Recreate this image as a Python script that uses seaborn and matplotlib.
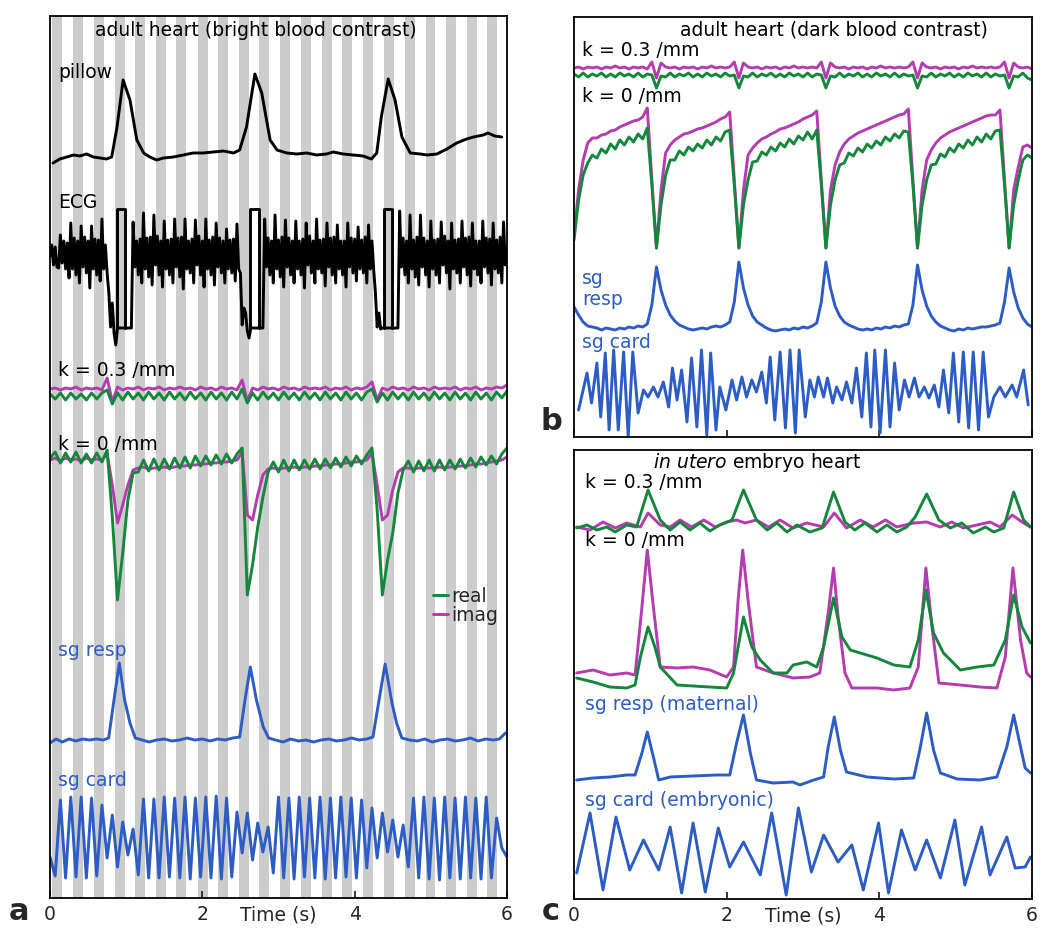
import matplotlib
matplotlib.use("Agg")
import matplotlib.pyplot as plt
from matplotlib.lines import Line2D
import numpy as np
import seaborn as sns

sns.set_style("white")
plt.rcParams["font.family"] = ["DejaVu Sans"]
plt.rcParams["mathtext.fontset"] = "dejavusans"

GREEN = "#14873c"
MAGENTA = "#b43cb0"
BLUE = "#2c5cc5"
GRAY = "#cccccc"
LW = 2.1
FS = 13.5

# ---------------- panel a : adult heart, bright blood ----------------
# alternating cardiac cycles (start times of the gray ones, s)
stripe_starts = [0.03, 0.30, 0.58, 0.85, 1.12, 1.39, 1.66, 1.94, 2.21, 2.48, 2.75,
                 3.02, 3.30, 3.57, 3.84, 4.11, 4.38, 4.66, 4.93, 5.20, 5.47, 5.74]

pillow_t = [0.04, 0.13, 0.22, 0.31, 0.39, 0.48, 0.57, 0.66, 0.74, 0.81,
            0.88, 0.96, 1.05, 1.14, 1.23, 1.31, 1.40, 1.49, 1.62, 1.75,
            1.88, 2.01, 2.14, 2.28, 2.41, 2.49, 2.58, 2.69, 2.78, 2.89,
            2.98, 3.11, 3.24, 3.37, 3.50, 3.63, 3.72, 3.85, 3.98, 4.11,
            4.22, 4.29, 4.35, 4.44, 4.53, 4.62, 4.73, 4.86, 4.95, 5.08,
            5.21, 5.34, 5.47, 5.56, 5.69, 5.75, 5.84, 5.93]
pillow_v = [-3, 1, 3, 5, 4, 6, 3, 2, 1, 3,
            33, 80, 60, 20, 7, 3, 0, 2, 3, 5,
            7, 7, 8, 9, 7, 10, 33, 86, 67, 20,
            10, 7, 6, 7, 5, 6, 8, 6, 5, 4,
            1, 7, 43, 81, 60, 23, 7, 6, 5, 6,
            11, 17, 21, 23, 25, 27, 24, 23]

# ECG, evenly sampled over 0-6 s (six samples per cardiac cycle)
ecg_v = [-3, 8, -12, 6, -14, -15, 18, -10, 12, -16, 10, -25,
         30, -16, 15, -22, 12, -30, 27, -14, 16, -20, 12, -35,
         27, -16, 14, -22, 13, -28,
         34, -16, 8, -20, -40, -74, -50, -80, -92,
         -75, -75, -75, -75, -75, -75, -75, -75, -75,
         31, -14, 12, -22, 14, -30, 40, -16, 15, -24, 16, -32,
         38, -12, 17, -22, 12, -34, 32, -16, 13, -22, 14, -30,
         34, -14, 15, -24, 16, -36, 34, -16, 12, -20, 14, -30,
         33, -12, 17, -22, 12, -34, 34, -16, 13, -22, 16, -32,
         30, -14, 15, -20, 12, -30, 24, -16, 13, -20, 14, -28,
         29, -16, -20, -72, -55, -60, -78, -85,
         -75, -75, -75, -75, -75, -75, -75, -75,
         34, -14, 15, -22, 12, -30, 38, -16, 13, -24, 16, -34,
         33, -14, 15, -22, 12, -30, 32, -16, 12, -22, 14, -35,
         30, -12, 17, -20, 12, -30, 34, -16, 13, -20, 14, -33,
         30, -14, 15, -22, 16, -30, 28, -16, 12, -22, 12, -34,
         30, -14, 15, -20, 14, -28, 26, -16, 13, -20, 16, -30,
         28, -16, 12, -17, -40, -74, -60, -76,
         -75, -75, -75, -75, -75, -75, -75, -75, -75, -75,
         42, -14, 15, -22, 12, -30, 38, -16, 13, -24, 16, -32,
         38, -14, 15, -22, 12, -34, 32, -16, 13, -22, 14, -30,
         31, -12, 17, -20, 12, -36, 30, -16, 13, -20, 14, -30,
         32, -14, 15, -22, 16, -33, 30, -16, 12, -22, 12, -30,
         32, -14, 15, -20, 14, -32, 30, -16, 13, -20, 16, -30,
         31, -12, 5]
gate_start = [0.88, 2.63, 4.385]
gate_end = [0.99, 2.74, 4.494]
gate_top, gate_bottom = 44, -75

# k = 0.3 /mm, evenly sampled
a_k03_imag = [3, 4, 2, 4, 3, 5, 2, 4, 3, 4, 2, 14, -10,
              5, 2, 4, 3, 5, 2, 4, 3, 5, 2, 4, 3, 5, 3, 4, 2, 5, 3, 4, 2, 5, 3, 4, 2,
              12, -9,
              4, 2, 5, 3, 4, 2, 5, 3, 4, 2, 5, 3, 4, 3, 5, 2, 4, 3, 5, 2, 4, 3, 5,
              10, -8,
              4, 2, 5, 3, 4, 2, 5, 3, 4, 2, 5, 3, 4, 3, 5, 2, 4, 3, 5, 2, 4, 3, 5, 4, 7]
a_k03_real = [-2, -7, -1, -8, -1, -7, -2, -8, -1, -7, -1, 2, -12,
              -1, -8, 0, -7, -1, -8, 0, -7, -1, -8, 0, -7, -1, -8, 0, -7, -1, -8, 0, -7, -1, -8, 0, -7,
              3, -11,
              -1, -8, 0, -7, -1, -8, 0, -7, -1, -8, 0, -7, -1, -8, 0, -7, -1, -8, 0, -7, -1, -8, 0,
              3, -10,
              -1, -8, 0, -7, -1, -8, 0, -7, -1, -8, 0, -7, -1, -8, 0, -7, -1, -8, 0, -7, -1, -8, 0, -6, 1]

# k = 0 /mm, evenly sampled
a_k0_real = [2, 8, -3, 7, -2, 8, -3, 6, -3, 7, -2, 10,
             -57, -140, -93, -40, -13,
             -12, 0, -11, 1, -10, 1, -9, 2, -8, 3, -8, 4, -6, 4, -5, 5, -4, 6, -3, 6,
             12, -135, -105, -67, -37, -12,
             -2, -12, 0, -11, 0, -10, 0, -9, 1, -9, 1, -8, 2, -7, 3, -6, 4, -4, 5,
             12, -50, -135, -100, -73, -33, -10,
             -1, -12, -1, -11, 0, -11, 0, -10, 0, -9, 1, -8, 2, -7, 3, -5, 4, -4, 6, 12]
a_k0_imag = [0, 2, -1, 2, 0, 1, -1, 2, 0, 1, 0, 6,
             -25, -63, -45, -25, -10,
             -8, -7, -9, -8, -8, -7, -8, -7, -6, -6, -5, -5, -4, -4, -3, -3, -2, -2, -1, 0,
             8, -55, -60, -35, -15, -9,
             -8, -9, -8, -8, -7, -8, -7, -7, -6, -6, -5, -5, -4, -4, -3, -2, -2, -1, 0,
             7, -25, -60, -55, -30, -12, -8,
             -8, -9, -8, -8, -8, -8, -7, -8, -7, -7, -6, -6, -5, -4, -4, -3, -2, -1, 0, 3]

a_resp_t = [0.0, 0.08, 0.16, 0.25, 0.34, 0.43, 0.52, 0.61, 0.70,
            0.77, 0.84, 0.91, 0.98, 1.05, 1.12, 1.21, 1.30, 1.40, 1.50,
            1.60, 1.70, 1.80, 1.90, 2.00, 2.10, 2.20, 2.30, 2.40, 2.49,
            2.56, 2.63, 2.71, 2.80, 2.87, 2.96, 3.06, 3.16, 3.26, 3.36,
            3.46, 3.56, 3.66, 3.76, 3.86, 3.96, 4.06, 4.16, 4.24, 4.32,
            4.40, 4.49, 4.55, 4.62, 4.72, 4.82, 4.92, 5.02, 5.12, 5.22,
            5.32, 5.42, 5.52, 5.62, 5.72, 5.82, 5.90, 5.98]
a_resp_v = [-3, 1, -2, 1, -1, 1, 0, 1, 0,
            2, 40, 77, 40, 17, 2, 0, -2, 0, 1,
            -1, 0, 2, 0, 1, -1, 1, 0, 2, 3,
            40, 73, 40, 13, 2, 0, -2, 1, -1, 0,
            -2, 0, 1, -1, 0, 2, 0, 1, 3, 40,
            76, 37, 17, 2, 0, -1, 1, -2, 0, 1,
            -1, 0, 2, -1, 1, 0, 1, 7]

# sg card, evenly sampled (half a cardiac cycle apart)
a_card_v = [-19, -38, 38, -40, 41, -39, 41, -40, 40, -38,
            33, -20, 23, -29, 16, -17, 9, -37, 39, -40,
            39, -40, 41, -39, 40, -40, 41, -41, 40, -39,
            41, -40, 42, -41, 40, -39, 26, -15, 25, -22,
            15, -14, 11, -35, 41, -40, 40, -41, 41, -39,
            40, -40, 41, -41, 40, -40, 41, -39, 40, -40,
            38, -30, 30, -20, 25, -14, 18, -19, 13, -29,
            40, -40, 41, -41, 40, -42, 41, -40, 40, -41,
            41, -40, 40, -41, 41, -40, 20, -10, -19]

# ---------------- panel b : adult heart, dark blood ----------------
b_k03_imag = [4, 5, 3, 5, 4, 5, 3, 5, 4, 6, 4, 5, 3, 5, 4, 5, 3, 10, -6, 9,
              5, 4, 5, 3, 5, 4, 5, 3, 5, 4, 6, 4, 5, 4, 5, 10, -6, 9,
              5, 4, 5, 3, 5, 4, 5, 3, 5, 4, 6, 4, 5, 4, 5, 4, 10, -6, 9,
              5, 4, 5, 3, 5, 4, 5, 3, 5, 4, 6, 4, 5, 4, 5, 4, 5, 10, -6, 9,
              5, 4, 5, 3, 5, 4, 5, 3, 5, 4, 6, 4, 5, 4, 5, 4, 5, 10, -6, 9,
              5, 4, 5, 3]
b_k03_real = [-2, -5, -1, -5, -2, -4, -1, -5, -2, -5, -1, -4, -2, -5, -1, -5, -2, -3, -16, -4,
              -5, -1, -5, -2, -4, -1, -5, -2, -5, -1, -4, -2, -5, -1, -4, -3, -16, -4,
              -5, -1, -5, -2, -4, -1, -5, -2, -5, -1, -4, -2, -5, -1, -5, -2, -3, -16, -4,
              -5, -1, -5, -2, -4, -1, -5, -2, -5, -1, -4, -2, -5, -1, -5, -2, -4, -3, -16, -4,
              -5, -1, -5, -2, -4, -1, -5, -2, -5, -1, -4, -2, -5, -1, -5, -2, -4, -3, -16, -4,
              -5, -1, -6, -8]
b_k0_imag = [-105, -60, -30, -13, -8, -8, -5, -4, -1, 0, 3, 5, 7, 9, 10, 13, 22, -50, -118, -60,
             -23, -15, -10, -7, -4, -3, -1, 1, 2, 4, 6, 8, 11, 13, 18, -50, -118, -60,
             -25, -18, -13, -9, -7, -4, -2, 1, 2, 4, 6, 8, 11, 13, 15, 19, -50, -118, -60,
             -35, -22, -14, -9, -6, -3, -1, 1, 3, 5, 7, 9, 11, 13, 15, 16, 21, -50, -118, -60,
             -30, -20, -13, -8, -5, -2, 0, 2, 4, 6, 8, 10, 12, 14, 15, 15, 20, -50, -118, -60,
             -37, -17, -15, -18]
b_k0_real = [-110, -70, -45, -33, -25, -28, -19, -23, -14, -19, -10, -15, -7, -12, -4, -9, 2, -55, -118, -75,
             -45, -30, -30, -21, -25, -17, -21, -14, -18, -10, -15, -7, -11, -2, 0, -55, -118, -75,
             -50, -32, -31, -22, -25, -17, -21, -13, -17, -9, -14, -6, -10, -2, -9, 0, -55, -118, -75,
             -50, -35, -33, -23, -26, -18, -22, -14, -18, -11, -15, -7, -11, -4, -8, -1, -2, -55, -118, -75,
             -50, -35, -34, -24, -27, -18, -22, -14, -18, -10, -15, -7, -12, -4, -9, -1, 0, -55, -118, -75,
             -50, -30, -25, -28]
b_resp_v = [23, 15, 8, 4, 3, 2, 0, 2, 1, 0, 2, 1, 3, 2, 4, 3, 6, 25, 63, 40,
            25, 15, 9, 5, 3, 1, 0, 1, 2, 1, 3, 4, 3, 5, 8, 28, 68, 42,
            25, 14, 8, 5, 2, 0, -1, 0, 1, 0, 2, 1, 3, 2, 4, 7, 28, 68, 42,
            24, 14, 8, 5, 3, 1, 0, 1, 0, 2, 1, 3, 2, 4, 3, 5, 6, 25, 65, 40,
            24, 14, 8, 4, 2, 0, -1, 1, 0, 2, 1, 2, 3, 3, 4, 5, 7, 28, 62, 38,
            22, 12, 6, 3]
b_card_t = [0.06, 0.17, 0.23, 0.30, 0.35, 0.41, 0.46, 0.52, 0.58, 0.65,
            0.71, 0.77, 0.84, 0.91, 0.97, 1.04, 1.10, 1.17, 1.24, 1.29,
            1.35, 1.41, 1.48, 1.54, 1.61, 1.67, 1.74, 1.79, 1.86, 1.91,
            1.99, 2.07, 2.13, 2.20, 2.26, 2.33, 2.39, 2.46, 2.52, 2.57,
            2.63, 2.70, 2.77, 2.83, 2.90, 2.95, 3.03, 3.09, 3.15, 3.20,
            3.27, 3.32, 3.39, 3.44, 3.51, 3.57, 3.64, 3.70, 3.77, 3.83,
            3.89, 3.94, 4.01, 4.08, 4.14, 4.20, 4.26, 4.33, 4.39, 4.46,
            4.52, 4.59, 4.65, 4.72, 4.78, 4.84, 4.91, 4.97, 5.04, 5.10,
            5.17, 5.23, 5.30, 5.36, 5.43, 5.50, 5.58, 5.65, 5.74, 5.80,
            5.89, 5.95]
b_card_v = [-17, 20, -10, 30, -24, 40, -37, 43, -37, 41,
            -44, 41, -20, 3, -4, 6, -4, 11, -14, 25,
            -7, 23, -29, 35, -34, 43, -42, 40, -37, 6,
            -17, 13, -7, 16, -4, 13, 1, 21, -10, 36,
            -27, 41, -35, 43, -40, 43, -24, 13, -4, 16,
            -4, 15, -10, 6, -7, 11, -10, 25, -24, 40,
            -34, 43, -40, 43, -34, 30, -17, 13, -4, 15,
            -4, 6, -5, 8, -14, 23, -20, 40, -29, 41,
            -35, 41, -37, 41, -24, -4, 6, -4, 8, -4,
            23, -12]

# ---------------- panel c : in utero embryo heart ----------------
c_k03_real_t = [0.035, 0.17, 0.30, 0.43, 0.54, 0.69, 0.82, 0.97, 1.13, 1.26, 1.39, 1.52, 1.65, 1.78, 1.91,
                2.07, 2.22, 2.39, 2.53, 2.66, 2.79, 2.92, 3.09, 3.25, 3.40, 3.55, 3.68, 3.81, 3.97,
                4.10, 4.23, 4.36, 4.47, 4.62, 4.78, 4.93, 5.08, 5.23, 5.39, 5.50, 5.63, 5.76, 5.89, 5.98]
c_k03_real_v = [0, 3, -2, 1, -4, 3, 1, 38, 8, -2, 6, -2, 5, -3, 3,
                8, 38, 8, -2, 5, -4, 3, -4, 0, 36, 6, -2, 5, -4,
                3, -4, 1, 11, 34, 8, 0, 5, -5, 1, -4, 0, 36, 8, 1]
c_k03_imag_t = [0.035, 0.21, 0.38, 0.54, 0.69, 0.87, 0.97, 1.13, 1.26, 1.39, 1.54, 1.70, 1.85,
                2.00, 2.13, 2.24, 2.39, 2.55, 2.70, 2.87, 3.05, 3.27, 3.41, 3.57, 3.75, 3.92,
                4.08, 4.23, 4.45, 4.62, 4.80, 4.95, 5.10, 5.28, 5.45, 5.58, 5.74, 5.89, 5.98]
c_k03_imag_v = [1, -2, 6, 0, 5, 1, 15, 3, 1, 8, 1, 8, 1,
                6, 8, 5, 8, 1, 8, 0, 5, 1, 15, 0, 8, 1,
                8, 1, 5, 6, 1, 6, 0, 3, 6, 1, 13, 5, 1]
c_k0_imag_t = [0.035, 0.25, 0.47, 0.69, 0.80, 0.89, 0.96, 1.04, 1.13,
               1.35, 1.56, 1.78, 2.00, 2.09, 2.15, 2.21, 2.28, 2.39,
               2.61, 2.87, 3.09, 3.22, 3.33, 3.40, 3.46, 3.55, 3.64,
               3.97, 4.19, 4.40, 4.51, 4.61, 4.69, 4.78,
               5.06, 5.32, 5.54, 5.65, 5.75, 5.85, 5.93, 5.98]
c_k0_imag_v = [7, 10, 5, 7, 5, 73, 130, 73, 13,
               12, 13, 10, 3, 13, 80, 130, 80, 13,
               7, 2, 3, 7, 67, 112, 63, 7, -8,
               -8, -10, -8, 13, 112, 53, -3,
               -5, -7, -8, 23, 112, 40, 7, 3]
c_k0_real_t = [0.035, 0.25, 0.47, 0.69, 0.80, 0.87, 0.97, 1.06, 1.13,
               1.35, 1.56, 1.78, 2.00, 2.09, 2.22, 2.33, 2.44,
               2.61, 2.79, 2.87, 3.05, 3.18, 3.27, 3.40, 3.51, 3.62, 3.75,
               3.97, 4.19, 4.40, 4.51, 4.61, 4.71, 4.84, 4.97,
               5.06, 5.28, 5.50, 5.65, 5.76, 5.87, 5.98]
c_k0_real_v = [2, -2, -7, -8, -5, 23, 53, 33, 13,
               -5, -6, -7, -8, 7, 63, 33, 20,
               7, 7, 15, 18, 13, 33, 82, 43, 30, 27,
               22, 15, 13, 40, 90, 47, 27, 17,
               10, 13, 15, 40, 85, 53, 37]
c_resp_t = [0.035, 0.25, 0.47, 0.69, 0.80, 0.89, 0.96, 1.04, 1.11,
            1.26, 1.56, 1.87, 2.04, 2.13, 2.22, 2.31, 2.39,
            2.61, 2.87, 2.96, 3.14, 3.27, 3.33, 3.41, 3.49, 3.57,
            3.84, 4.19, 4.45, 4.53, 4.62, 4.71, 4.80,
            5.02, 5.32, 5.54, 5.67, 5.76, 5.85, 5.91, 5.98]
c_resp_v = [-2, 0, 1, 3, 3, 25, 46, 21, -2,
            1, 2, 3, 3, 35, 63, 25, -2,
            -5, -4, -7, -2, 1, 31, 61, 28, 6,
            1, -1, 0, 28, 65, 28, 5,
            -1, -2, 1, 31, 63, 31, 10, 5]
c_card_t = [0.035, 0.21, 0.38, 0.55, 0.73, 0.91, 1.11, 1.26, 1.41, 1.56, 1.72, 1.89,
            2.04, 2.22, 2.44, 2.59, 2.78, 2.94, 3.11, 3.27, 3.46, 3.64, 3.79, 3.99,
            4.12, 4.29, 4.47, 4.62, 4.80, 4.99, 5.12, 5.34, 5.45, 5.67, 5.78, 5.91, 5.98]
c_card_v = [-23, 37, -40, 33, -20, 10, -20, 23, -43, 27, -42, 22,
            -17, 8, -25, 37, -45, 42, -22, 15, -12, 5, -40, 27,
            -43, 20, -20, 10, -28, 30, -35, 23, -25, 13, -18, -17, -7]


def trace(ax, t, v, offset, color):
    t = np.asarray(t, float)
    v = np.asarray(v, float)
    sns.lineplot(x=t, y=v + offset, ax=ax, color=color, lw=LW,
                 sort=False, estimator=None)


def even(v):
    return np.linspace(0, 6, len(v))


def setup(ax, height, labels=True):
    ax.set_xlim(0, 6)
    ax.set_ylim(0, height)
    ax.set_yticks([])
    ax.set_xticks([0, 2, 4, 6])
    ax.tick_params(axis="x", bottom=True, direction="in", length=5, width=1.3,
                   labelsize=FS, pad=5, labelbottom=labels)
    for s in ax.spines.values():
        s.set_linewidth(1.3)
        s.set_color("black")
    if labels:
        ax.set_xlabel("Time (s)", fontsize=FS)


def label(ax, x, y, txt, color="black", **kw):
    ax.text(x, y, txt, color=color, fontsize=FS, ha="left", va="center", **kw)


fig = plt.figure(figsize=(10.5, 9.39), dpi=100)
ax_a = fig.add_axes([50 / 1050, 41 / 939, 457 / 1050, 882 / 939])
ax_b = fig.add_axes([574 / 1050, 502 / 939, 458 / 1050, 420 / 939])
ax_c = fig.add_axes([574 / 1050, 40 / 939, 458 / 1050, 449 / 939])

# ---- a ----
setup(ax_a, 882)
for s in stripe_starts:
    ax_a.axvspan(s, s + 0.13, color=GRAY, lw=0, zorder=0)
trace(ax_a, pillow_t, pillow_v, 738, "black")
trace(ax_a, even(ecg_v), ecg_v, 645, "black")
for s, e in zip(gate_start, gate_end):
    trace(ax_a, [s, s, e, e], [gate_bottom, gate_top, gate_top, gate_bottom], 645, "black")
trace(ax_a, even(a_k03_imag), a_k03_imag, 506, MAGENTA)
trace(ax_a, even(a_k03_real), a_k03_real, 506, GREEN)
trace(ax_a, even(a_k0_imag), a_k0_imag, 438, MAGENTA)
trace(ax_a, even(a_k0_real), a_k0_real, 438, GREEN)
trace(ax_a, a_resp_t, a_resp_v, 158, BLUE)
trace(ax_a, even(a_card_v), a_card_v, 60, BLUE)
label(ax_a, 0.59, 868, "adult heart (bright blood contrast)")
label(ax_a, 0.105, 825, "pillow")
label(ax_a, 0.105, 695, "ECG")
label(ax_a, 0.105, 527, "k = 0.3 /mm")
label(ax_a, 0.105, 454, "k = 0 /mm")
label(ax_a, 0.105, 248, "sg resp", BLUE)
label(ax_a, 0.105, 118, "sg card", BLUE)
handles = [Line2D([], [], color=GREEN, lw=LW), Line2D([], [], color=MAGENTA, lw=LW)]
ax_a.legend(handles, ["real", "imag"], loc="upper left", bbox_to_anchor=(0.838, 0.353),
            frameon=False, fontsize=FS, handlelength=0.8, handletextpad=0.2,
            labelspacing=0.0, borderpad=0, borderaxespad=0)
ax_a.xaxis.set_label_coords(0.5, -0.008)

# ---- b ----
setup(ax_b, 420, labels=False)
trace(ax_b, even(b_k03_imag), b_k03_imag, 365, MAGENTA)
trace(ax_b, even(b_k03_real), b_k03_real, 365, GREEN)
trace(ax_b, even(b_k0_imag), b_k0_imag, 307, MAGENTA)
trace(ax_b, even(b_k0_real), b_k0_real, 307, GREEN)
trace(ax_b, even(b_resp_v), b_resp_v, 107, BLUE)
trace(ax_b, b_card_t, b_card_v, 44, BLUE)
label(ax_b, 1.39, 407, "adult heart (dark blood contrast)")
label(ax_b, 0.105, 387, "k = 0.3 /mm")
label(ax_b, 0.105, 340, "k = 0 /mm")
ax_b.text(0.105, 148, "sg\nresp", color=BLUE, fontsize=FS, ha="left", va="center", linespacing=1.15)
label(ax_b, 0.105, 94, "sg card", BLUE)

# ---- c ----
setup(ax_c, 449)
trace(ax_c, c_k03_imag_t, c_k03_imag_v, 371, MAGENTA)
trace(ax_c, c_k03_real_t, c_k03_real_v, 371, GREEN)
trace(ax_c, c_k0_imag_t, c_k0_imag_v, 219, MAGENTA)
trace(ax_c, c_k0_real_t, c_k0_real_v, 219, GREEN)
trace(ax_c, c_resp_t, c_resp_v, 121, BLUE)
trace(ax_c, c_card_t, c_card_v, 49, BLUE)
label(ax_c, 1.035, 436, r"$\it{in\ utero}$ embryo heart")
label(ax_c, 0.145, 416, "k = 0.3 /mm")
label(ax_c, 0.145, 359, "k = 0 /mm")
label(ax_c, 0.145, 194, "sg resp (maternal)", BLUE)
label(ax_c, 0.145, 99, "sg card (embryonic)", BLUE)
ax_c.xaxis.set_label_coords(0.5, -0.016)

fig.text(19 / 1050, 1 - 912 / 939, "a", fontsize=22, fontweight="bold", ha="center", va="center")
fig.text(551 / 1050, 1 - 422 / 939, "b", fontsize=22, fontweight="bold", ha="center", va="center")
fig.text(551 / 1050, 1 - 912 / 939, "c", fontsize=22, fontweight="bold", ha="center", va="center")

fig.savefig("out.png", dpi=100)
